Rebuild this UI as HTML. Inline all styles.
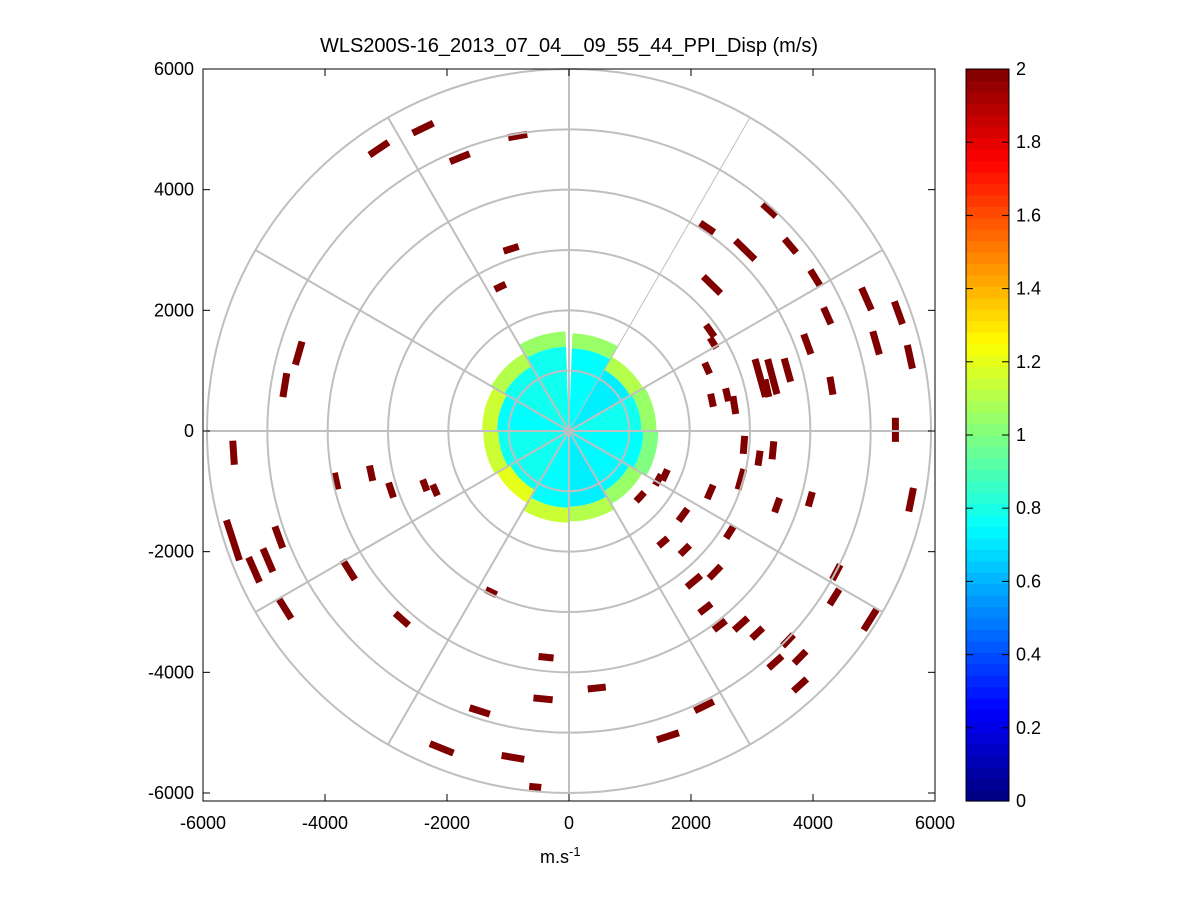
<!DOCTYPE html>
<html><head><meta charset="utf-8"><style>
html,body{margin:0;padding:0;background:#fff;}
svg{display:block;font-family:"Liberation Sans",sans-serif;}
</style></head><body>
<svg id="chart" width="1201" height="901" viewBox="0 0 1201 901" xmlns="http://www.w3.org/2000/svg">
<rect x="0" y="0" width="1201" height="901" fill="#fff"/>
<text x="569" y="52" font-size="20" text-anchor="middle">WLS200S-16_2013_07_04__09_55_44_PPI_Disp (m/s)</text>
<g id="plot"></g>
<rect x="203" y="69" width="732" height="732" fill="none" stroke="#000" stroke-width="1"/>
<g id="axes"></g>
<text x="540" y="863" font-size="18">m.s<tspan dy="-7" font-size="13">-1</tspan></text>
<g id="cbar"></g>
</svg>
<script>
const NS='http://www.w3.org/2000/svg';
// tick values
const xTicks=[-6000,-4000,-2000,0,2000,4000,6000];
const yTicks=[6000,4000,2000,0,-2000,-4000,-6000];
const ringRanges=[1000,2000,3000,4000,5000,6000];
const spokeAngles=[0,30,60,90,120,150,180,210,240,270,300,330];
const cbarTicks=[0,0.2,0.4,0.6,0.8,1,1.2,1.4,1.6,1.8,2];
// scattered returns: x (m), y (m), arc length (m), value (m/s)
const segX=[-3150,-2420,-1810,-850,-960,-1140,-4480,-4710,-5560,-5570,-5220,-4990,-4810,-4710,-3650,-3860,-3280,-2950,-2390,-2220,-2770,-1290,-380,-430,-1480,-2110,-930,-560,460,1640,2240,
3320,2290,2920,3670,2370,4080,4930,5460,2340,4280,2390,3950,5090,5650,3170,3370,2290,3620,2370,2740,2620,3280,4350,5410,2900,3380,3150,2850,4000,5670,3450,2340,1590,1890,1920,2670,1560,2070,2420,2260,2500,2850,3120,3630,3420,3830,3830,4430,4400,4990,1180,1480];
const segY=[4680,5020,4530,4890,3020,2390,1290,760,-360,-1810,-2300,-2140,-1760,-2940,-2300,-830,-700,-980,-900,-980,-3120,-2670,-3750,-4440,-4640,-5260,-5410,-5900,-4260,-5060,-4560,
3660,3370,3000,3070,2420,2540,2190,1960,1660,1910,1460,1440,1460,1230,880,900,1040,1010,510,430,600,710,750,20,-230,-320,-450,-800,-1130,-1140,-1230,-1010,-730,-1390,-1970,-1670,-1840,-2490,-2340,-2940,-3220,-3200,-3350,-3470,-3830,-3750,-4210,-2340,-2750,-3130,-1090,-810];
const segLen=[380,380,350,320,260,200,400,400,400,700,450,420,380,400,380,280,260,260,200,200,300,200,250,320,350,420,380,200,300,380,350,
300,280,450,300,400,300,400,400,240,300,200,350,400,400,650,600,200,400,220,300,220,300,300,400,300,300,250,350,250,400,250,250,200,250,220,250,200,300,280,250,250,300,250,260,300,280,300,280,300,400,200,200];
const segVal=[2,2,2,2,2,2,2,2,2,2,2,2,2,2,2,2,2,2,2,2,2,2,2,2,2,2,2,2,2,2,2,2,2,2,2,2,2,2,2,2,2,2,2,2,2,2,2,2,2,2,2,2,2,2,2,2,2,2,2,2,2,2,2,2,2,2,2,2,2,2,2,2,2,2,2,2,2,2,2,2,2,2,2];
// central dense region: azimuth sector centres (deg from north), outer range (m), core and rim values
const blobAz=[15,45,75,105,135,165,195,225,255,285,315,345];
const blobR=[1620,1420,1450,1480,1400,1500,1520,1380,1420,1440,1490,1650];
const blobCore=[0.75,0.72,0.78,0.75,0.74,0.72,0.75,0.78,0.78,0.75,0.78,0.78];
const blobRim=[1.05,1.1,1.05,1.0,1.05,1.1,1.15,1.2,1.15,1.15,1.1,1.05];

const CX=569,CY=431,SY=362/6000,SXT=366/6000,SR=362/6000;
function px(x){return CX+x*SR;}
function py(y){return CY-y*SR;}
function jet(v){let t=Math.max(0,Math.min(1,v/2));
 const f=(a)=>Math.max(0,Math.min(1,1.5-Math.abs(4*t-a)));
 const r=f(3),g=f(2),b=f(1);return `rgb(${Math.round(r*255)},${Math.round(g*255)},${Math.round(b*255)})`;}
function mk(tag,attrs,parent){const e=document.createElementNS(NS,tag);for(const k in attrs)e.setAttribute(k,attrs[k]);parent.appendChild(e);return e;}
const plot=document.getElementById('plot');
function polarPt(az,r){const a=az*Math.PI/180;return [px(r*Math.sin(a)),py(r*Math.cos(a))];}
function wedge(a0,a1,r0,r1){const p1=polarPt(a0,r0),p2=polarPt(a0,r1),p3=polarPt(a1,r1),p4=polarPt(a1,r0);
 const R1=r1*SR,R0=r0*SR;
 return `M${p1[0]},${p1[1]}L${p2[0]},${p2[1]}A${R1},${R1} 0 0 1 ${p3[0]},${p3[1]}L${p4[0]},${p4[1]}A${R0},${R0} 0 0 0 ${p1[0]},${p1[1]}Z`;}
// blob
blobAz.forEach((az,i)=>{
 let a0=az-15,a1=az+15;if(i===0)a0=2;if(i===blobAz.length-1)a1=358;
 const rim=mk('path',{d:wedge(a0,a1,blobR[i]-250,blobR[i]),fill:jet(blobRim[i])},plot);
 
 
 const core=mk('path',{d:wedge(a0,a1,0,blobR[i]-250),fill:jet(blobCore[i])},plot);
 
 
});
// segments (tangential arcs)
segX.forEach((x,i)=>{
 const y=segY[i],r=Math.hypot(x,y),L=segLen[i]/2;
 const tx=-y/r,ty=x/r;
 const l=mk('line',{x1:px(x-tx*L),y1:py(y-ty*L),x2:px(x+tx*L),y2:py(y+ty*L),stroke:jet(segVal[i]),'stroke-width':7},plot);
 
 
});
// grid rings and spokes
ringRanges.forEach(r=>{
 const c=mk('circle',{cx:CX,cy:CY,r:r*SR,fill:'none',stroke:'#bfbfbf','stroke-width':2},plot);
 
 
});
spokeAngles.forEach(a=>{
 const p=polarPt(a,6000);
 const l=mk('line',{x1:CX,y1:CY,x2:p[0],y2:p[1],stroke:'#bfbfbf','stroke-width':a===30?1:2},plot);
 
 
});
// axes ticks
const axes=document.getElementById('axes');
xTicks.forEach(v=>{
 const x=CX+v*SXT;
 mk('line',{x1:x,y1:801,x2:x,y2:794,stroke:'#000'},axes);mk('line',{x1:x,y1:69,x2:x,y2:76,stroke:'#000'},axes);
 const t=mk('text',{x:x,y:829,'font-size':18,'text-anchor':'middle'},axes);t.textContent=v;
 
 
});
yTicks.forEach(v=>{
 const y=CY-v*SY;
 mk('line',{x1:203,y1:y,x2:210,y2:y,stroke:'#000'},axes);mk('line',{x1:935,y1:y,x2:928,y2:y,stroke:'#000'},axes);
 const t=mk('text',{x:194,y:y+6,'font-size':18,'text-anchor':'end'},axes);t.textContent=v;
 
 
});
// colorbar
const cb=document.getElementById('cbar');
const CB0=69,CB1=801,CBX=966,CBW=43;
for(let k=0;k<64;k++){
 const h=(CB1-CB0)/64;
 const r=mk('rect',{x:CBX,y:CB1-(k+1)*h,width:CBW,height:h+0.6,fill:jet((k+0.5)/64*2)},cb);
 
 
}
mk('rect',{x:CBX,y:CB0,width:CBW,height:CB1-CB0,fill:'none',stroke:'#000'},cb);
cbarTicks.forEach(v=>{
 const y=CB1-v/2*(CB1-CB0);
 mk('line',{x1:CBX,y1:y,x2:CBX+7,y2:y,stroke:'#000'},cb);mk('line',{x1:CBX+CBW,y1:y,x2:CBX+CBW-7,y2:y,stroke:'#000'},cb);
 const t=mk('text',{x:1016,y:y+6,'font-size':18},cb);t.textContent=v;
 
 
});
</script>
</body></html>
